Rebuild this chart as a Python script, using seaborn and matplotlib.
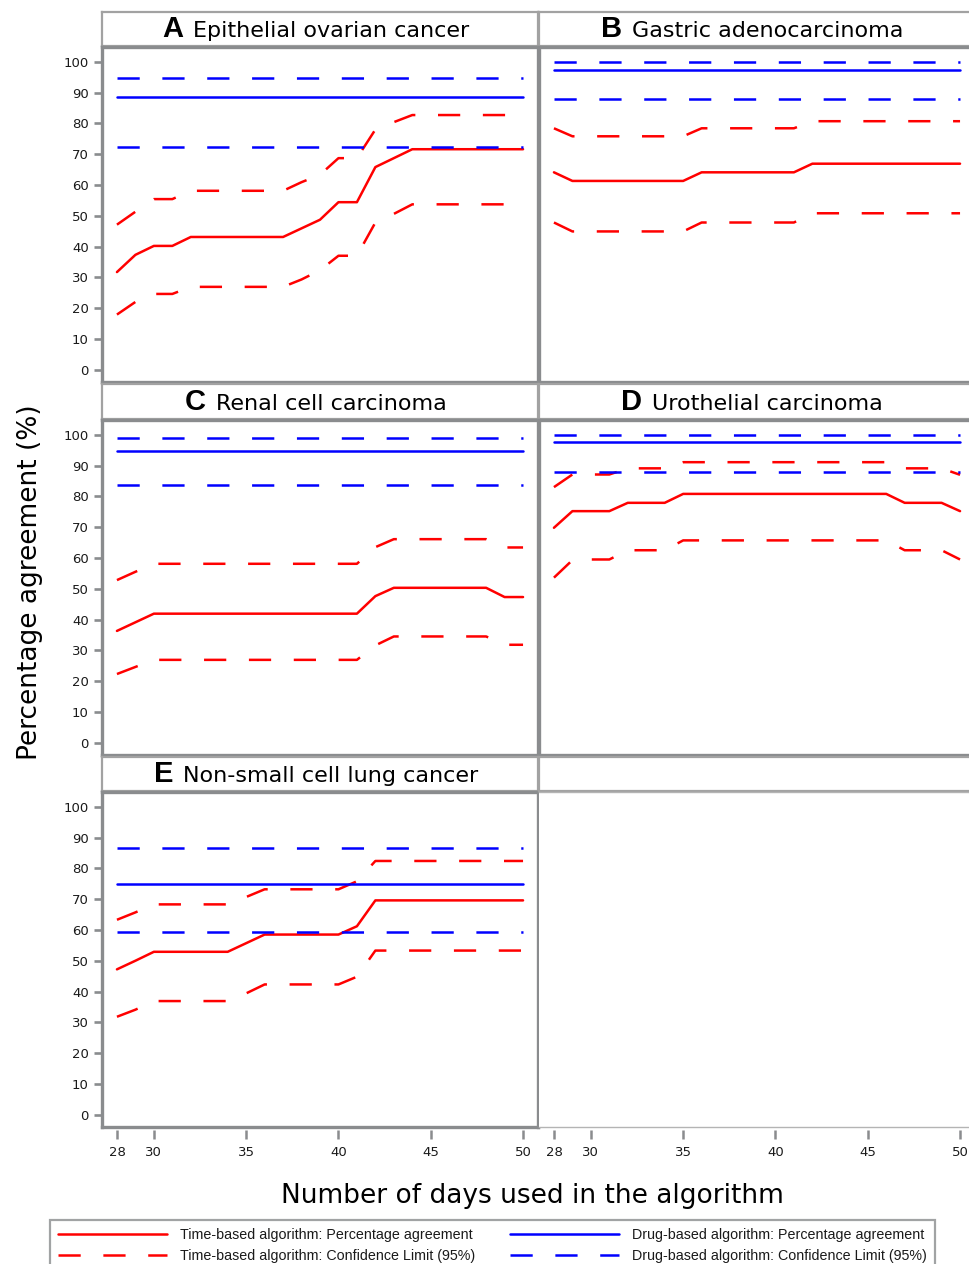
import matplotlib
matplotlib.use("Agg")
import matplotlib.pyplot as plt
from matplotlib.lines import Line2D
from matplotlib import font_manager
import seaborn as sns

# ---------------- data ----------------
days = list(range(28, 51))
x_ticks = [28, 30, 35, 40, 45, 50]
y_ticks = list(range(0, 101, 10))

panel_letters = ["A", "B", "C", "D", "E"]
panel_names = ["Epithelial ovarian cancer", "Gastric adenocarcinoma",
               "Renal cell carcinoma", "Urothelial carcinoma",
               "Non-small cell lung cancer"]

# Time-based algorithm (days 28..50)
a_time_pct = [31.7, 37.3, 40.2, 40.2, 43.1, 43.1, 43.1, 43.1, 43.1, 43.1, 45.9, 48.7,
              54.4, 54.4, 65.8, 68.7, 71.6, 71.6, 71.6, 71.6, 71.6, 71.6, 71.6]
a_time_ucl = [47.1, 51.3, 55.4, 55.4, 58.1, 58.1, 58.1, 58.1, 58.1, 58.1, 60.9, 63.3,
              68.7, 68.7, 78.0, 80.4, 82.7, 82.7, 82.7, 82.7, 82.7, 82.7, 82.7]
a_time_lcl = [17.9, 22.0, 24.6, 24.6, 26.9, 26.9, 26.9, 26.9, 26.9, 26.9, 29.3, 32.3,
              37.0, 37.0, 47.8, 50.6, 53.7, 53.7, 53.7, 53.7, 53.7, 53.7, 53.7]

b_time_pct = [64.1, 61.3, 61.3, 61.3, 61.3, 61.3, 61.3, 61.3, 64.1, 64.1, 64.1, 64.1,
              64.1, 64.1, 66.9, 66.9, 66.9, 66.9, 66.9, 66.9, 66.9, 66.9, 66.9]
b_time_ucl = [78.4, 75.8, 75.8, 75.8, 75.8, 75.8, 75.8, 75.8, 78.4, 78.4, 78.4, 78.4,
              78.4, 78.4, 80.7, 80.7, 80.7, 80.7, 80.7, 80.7, 80.7, 80.7, 80.7]
b_time_lcl = [47.8, 44.9, 44.9, 44.9, 44.9, 44.9, 44.9, 44.9, 47.8, 47.8, 47.8, 47.8,
              47.8, 47.8, 50.8, 50.8, 50.8, 50.8, 50.8, 50.8, 50.8, 50.8, 50.8]

c_time_pct = [36.3, 39.1, 41.9, 41.9, 41.9, 41.9, 41.9, 41.9, 41.9, 41.9, 41.9, 41.9,
              41.9, 41.9, 47.6, 50.3, 50.3, 50.3, 50.3, 50.3, 50.3, 47.3, 47.3]
c_time_ucl = [52.8, 55.5, 58.1, 58.1, 58.1, 58.1, 58.1, 58.1, 58.1, 58.1, 58.1, 58.1,
              58.1, 58.1, 63.5, 66.1, 66.1, 66.1, 66.1, 66.1, 66.1, 63.4, 63.4]
c_time_lcl = [22.3, 24.6, 26.9, 26.9, 26.9, 26.9, 26.9, 26.9, 26.9, 26.9, 26.9, 26.9,
              26.9, 26.9, 31.6, 34.5, 34.5, 34.5, 34.5, 34.5, 34.5, 31.8, 31.8]

d_time_pct = [69.8, 75.2, 75.2, 75.2, 77.9, 77.9, 77.9, 80.8, 80.8, 80.8, 80.8, 80.8,
              80.8, 80.8, 80.8, 80.8, 80.8, 80.8, 80.8, 77.9, 77.9, 77.9, 75.2]
d_time_ucl = [83.0, 87.1, 87.1, 87.1, 89.1, 89.1, 89.1, 91.1, 91.1, 91.1, 91.1, 91.1,
              91.1, 91.1, 91.1, 91.1, 91.1, 91.1, 91.1, 89.1, 89.1, 89.1, 87.0]
d_time_lcl = [53.6, 59.3, 59.5, 59.5, 62.5, 62.5, 62.5, 65.7, 65.7, 65.7, 65.7, 65.7,
              65.7, 65.7, 65.7, 65.7, 65.7, 65.7, 65.7, 62.5, 62.5, 62.5, 59.5]

e_time_pct = [47.2, 50.0, 52.9, 52.9, 52.9, 52.9, 52.9, 55.7, 58.5, 58.5, 58.5, 58.5,
              58.5, 61.2, 69.6, 69.6, 69.6, 69.6, 69.6, 69.6, 69.6, 69.6, 69.6]
e_time_ucl = [63.3, 65.7, 68.3, 68.3, 68.3, 68.3, 68.3, 70.7, 73.2, 73.2, 73.2, 73.2,
              73.2, 75.8, 82.4, 82.4, 82.4, 82.4, 82.4, 82.4, 82.4, 82.4, 82.4]
e_time_lcl = [31.8, 34.1, 36.9, 36.9, 36.9, 36.9, 36.9, 39.4, 42.3, 42.3, 42.3, 42.3,
              42.3, 44.8, 53.3, 53.3, 53.3, 53.3, 53.3, 53.3, 53.3, 53.3, 53.3]

# Drug-based algorithm (constant across days), panels A..E
drug_pct = [88.6, 97.4, 94.8, 97.5, 75.0]
drug_lcl = [72.4, 87.9, 83.6, 87.9, 59.3]
drug_ucl = [94.6, 99.8, 99.1, 100.0, 86.7]

time_pct = [a_time_pct, b_time_pct, c_time_pct, d_time_pct, e_time_pct]
time_lcl = [a_time_lcl, b_time_lcl, c_time_lcl, d_time_lcl, e_time_lcl]
time_ucl = [a_time_ucl, b_time_ucl, c_time_ucl, d_time_ucl, e_time_ucl]

legend_labels = ["Time-based algorithm: Percentage agreement",
                 "Time-based algorithm: Confidence Limit (95%)",
                 "Drug-based algorithm: Percentage agreement",
                 "Drug-based algorithm: Confidence Limit (95%)"]
x_label = "Number of days used in the algorithm"
y_label = "Percentage agreement (%)"

# ---------------- style ----------------
sns.set_style("white")
plt.rcParams["font.family"] = ["DejaVu Sans"]
plt.rcParams["lines.scale_dashes"] = False


def has_font(name):
    try:
        font_manager.findfont(font_manager.FontProperties(family=name),
                              fallback_to_default=False)
        return True
    except Exception:
        return False


narrow = has_font("Liberation Sans Narrow")
legend_family = "Liberation Sans Narrow" if narrow else "Liberation Sans"
legend_size = 12.4 if narrow else 10.3

RED = "#ff0000"
BLUE = "#0000ff"
GREY = "#8a8c8e"
HGREY = "#a2a2a2"
LW = 1.8
DASH = (0, (16.0, 16.3))

W, H = 969, 1264
fig = plt.figure(figsize=(W / 100, H / 100), dpi=100)


def px_axes(x0, y0, x1, y1):
    return fig.add_axes([x0 / W, 1 - y1 / H, (x1 - x0) / W, (y1 - y0) / H])


col_x = [(102, 538), (539, 975)]
header_y = [(12, 46), (384, 419), (757, 791)]
plot_y = [(47, 382), (420, 755), (792, 1127)]
title_cx = [316, 752]
XLIM = (27.19, 50.81)
YLIM = (-4.0, 104.8)

header_axes = []
for i in range(6):
    r, c = divmod(i, 2)
    x0, x1 = col_x[c]
    hax = px_axes(x0, header_y[r][0], x1, header_y[r][1])
    hax.set_xticks([])
    hax.set_yticks([])
    for s in hax.spines.values():
        s.set_color(HGREY)
        s.set_linewidth(1.6)
    header_axes.append(hax)

    ax = px_axes(x0, plot_y[r][0], x1, plot_y[r][1])
    ax.set_xlim(*XLIM)
    ax.set_ylim(*YLIM)
    if i < 5:
        n = len(days)
        sns.lineplot(x=days, y=time_pct[i], ax=ax, color=RED, linewidth=LW,
                     errorbar=None, legend=False)
        sns.lineplot(x=days, y=time_ucl[i], ax=ax, color=RED, linewidth=LW,
                     linestyle=DASH, errorbar=None, legend=False)
        sns.lineplot(x=days, y=time_lcl[i], ax=ax, color=RED, linewidth=LW,
                     linestyle=DASH, errorbar=None, legend=False)
        sns.lineplot(x=days, y=[drug_pct[i]] * n, ax=ax, color=BLUE, linewidth=LW,
                     errorbar=None, legend=False)
        sns.lineplot(x=days, y=[drug_ucl[i]] * n, ax=ax, color=BLUE, linewidth=LW,
                     linestyle=DASH, errorbar=None, legend=False)
        sns.lineplot(x=days, y=[drug_lcl[i]] * n, ax=ax, color=BLUE, linewidth=LW,
                     linestyle=DASH, errorbar=None, legend=False)
        ax.set_xlim(*XLIM)
        ax.set_ylim(*YLIM)
        for s in ax.spines.values():
            s.set_color(GREY)
            s.set_linewidth(2.4)
    else:
        for s in ax.spines.values():
            s.set_color("#b4b4b4")
            s.set_linewidth(1.0)
        ax.spines["left"].set_visible(False)
    ax.set_xticks([])
    ax.set_xlabel("")
    ax.set_ylabel("")
    if c == 0:
        ax.set_yticks(y_ticks)
        ax.tick_params(axis="y", left=True, direction="out", length=5.5,
                       width=1.9, color=GREY, labelsize=9.5,
                       labelcolor="#1a1a1a", pad=4)
    else:
        ax.set_yticks([])
    if r == 2:
        sec = ax.secondary_xaxis(-0.009)
        sec.set_xticks(x_ticks)
        sec.spines["bottom"].set_visible(False)
        sec.tick_params(bottom=True, direction="out", length=6.5, width=1.8,
                        color=GREY, labelsize=9.5, labelcolor="#1a1a1a", pad=5)

# ---------------- panel titles ----------------
titles = []
for i in range(5):
    hax = header_axes[i]
    t1 = hax.text(0, 0.5, panel_letters[i], transform=hax.transAxes,
                  family="Liberation Sans", fontweight="bold", fontsize=21,
                  va="baseline", ha="left", color="black")
    t2 = hax.text(0, 0.5, panel_names[i], transform=hax.transAxes,
                  family="DejaVu Sans", fontsize=16, va="baseline", ha="left",
                  color="black")
    titles.append((t1, t2))

fig.canvas.draw()
rend = fig.canvas.get_renderer()
for i, (t1, t2) in enumerate(titles):
    hax = header_axes[i]
    bb = hax.get_window_extent(rend)
    w1 = t1.get_window_extent(rend).width
    w2 = t2.get_window_extent(rend).width
    gap = 10
    total = w1 + gap + w2
    cx = title_cx[i % 2]
    start = cx - total / 2
    r = i // 2
    base_px_from_top = (header_y[r][0] + header_y[r][1]) / 2 + 8
    base_disp = H - base_px_from_top
    yb = (base_disp - bb.y0) / bb.height
    t1.set_position(((start - bb.x0) / bb.width, yb))
    t2.set_position(((start + w1 + gap - bb.x0) / bb.width, yb))

# ---------------- axis labels ----------------
fig.text(30 / W, 1 - 582 / H, y_label, rotation=90, ha="center", va="center",
         fontsize=19, family="DejaVu Sans", color="black")
fig.text(532 / W, 1 - 1196 / H, x_label, ha="center", va="center",
         fontsize=19, family="DejaVu Sans", color="black")

# ---------------- legend ----------------
handles = [Line2D([], [], color=RED, linewidth=LW),
           Line2D([], [], color=RED, linewidth=LW, linestyle=DASH),
           Line2D([], [], color=BLUE, linewidth=LW),
           Line2D([], [], color=BLUE, linewidth=LW, linestyle=DASH)]
top = 1 - 1220 / H
leg = fig.legend(handles, legend_labels, ncol=2, loc="upper left",
                 bbox_to_anchor=(50 / W, top - 0.05, 885 / W, 0.05),
                 mode="expand", borderaxespad=0, frameon=True, fancybox=False,
                 prop={"family": legend_family, "size": legend_size},
                 handlelength=7.6, handletextpad=0.95, labelspacing=0.5,
                 borderpad=0.55, columnspacing=1.5)
leg.get_frame().set_edgecolor(GREY)
leg.get_frame().set_linewidth(1.6)
for t in leg.get_texts():
    t.set_color("#1a1a1a")

fig.savefig("out.png", dpi=100)
